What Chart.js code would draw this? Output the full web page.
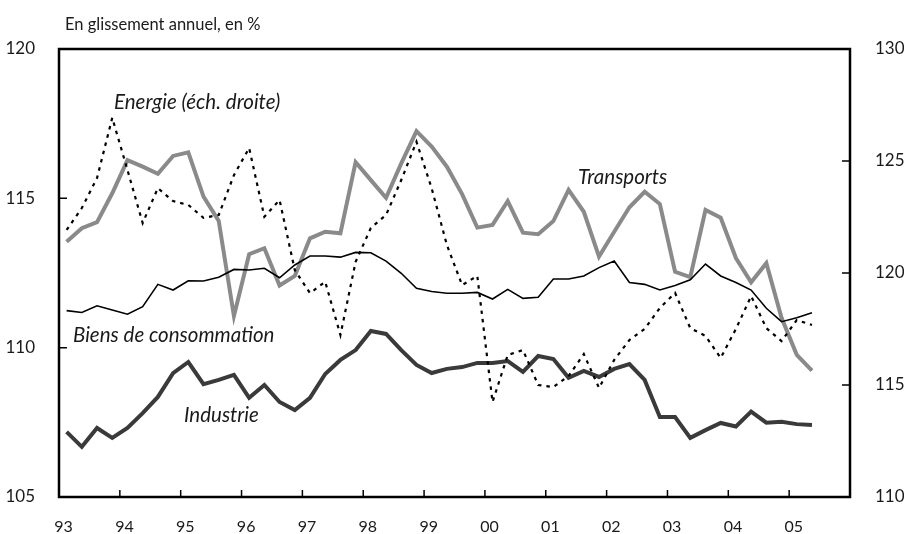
<!DOCTYPE html>
<html>
<head>
<meta charset="utf-8">
<script src="https://cdn.jsdelivr.net/npm/chart.js@4"></script>
<style>
  html, body { margin: 0; padding: 0; background: #fff; }
  #wrap { width: 904px; height: 534px; }
</style>
</head>
<body>
<div id="wrap"><canvas id="chart" width="904" height="534"></canvas></div>
<script>
// years shown on the x axis, quarterly data 1993T1 - 2005T2
var YEARS = ["93", "94", "95", "96", "97", "98", "99", "00", "01", "02", "03", "04", "05"];
var QUARTERS = YEARS.flatMap(function (y) { return [y + "T1", y + "T2", y + "T3", y + "T4"]; });

var LEFT_TICKS = [105, 110, 115, 120];
var RIGHT_TICKS = [110, 115, 120, 125, 130];

// left scale
var TRANSPORTS = [113.55, 114.0, 114.2, 115.17, 116.28, 116.06, 115.82, 116.42, 116.54, 115.06,
    114.24, 111.06, 113.13, 113.33, 112.08, 112.4, 113.66, 113.88, 113.83, 116.21,
    115.61, 115.02, 116.17, 117.25, 116.73, 116.06, 115.14, 114.02, 114.11, 114.91,
    113.85, 113.8, 114.24, 115.28, 114.55, 113.05, 113.88, 114.7, 115.22, 114.81,
    112.54, 112.36, 114.61, 114.35, 113.0, 112.19, 112.83, 111.0, 109.76, 109.23];

var BIENS = [111.24, 111.18, 111.4, 111.26, 111.12, 111.37, 112.12, 111.93, 112.24, 112.23,
    112.36, 112.62, 112.6, 112.66, 112.34, 112.77, 113.07, 113.07, 113.03, 113.19,
    113.18, 112.9, 112.49, 111.99, 111.88, 111.82, 111.82, 111.85, 111.63, 111.95,
    111.65, 111.69, 112.3, 112.3, 112.4, 112.68, 112.9, 112.18, 112.12, 111.93,
    112.08, 112.27, 112.8, 112.4, 112.18, 111.93, 111.32, 110.87, 111.0, 111.17];

var INDUSTRIE = [107.18, 106.68, 107.31, 106.98, 107.31, 107.81, 108.35, 109.15, 109.52, 108.78,
    108.92, 109.09, 108.32, 108.75, 108.18, 107.91, 108.32, 109.12, 109.59, 109.92,
    110.56, 110.46, 109.92, 109.42, 109.15, 109.29, 109.35, 109.49, 109.49, 109.55,
    109.19, 109.72, 109.62, 108.99, 109.22, 109.02, 109.29, 109.45, 108.92, 107.68,
    107.68, 106.98, 107.24, 107.48, 107.36, 107.86, 107.49, 107.52, 107.44, 107.41];

// right scale
var ENERGIE = [121.92, 122.9, 124.24, 126.93, 124.6, 122.23, 123.79, 123.21, 123.04, 122.46,
    122.59, 124.37, 125.58, 122.51, 123.26, 120.13, 119.1, 119.61, 117.23, 120.5,
    122.01, 122.59, 124.15, 125.86, 123.78, 121.25, 119.46, 119.87, 114.24, 116.34,
    116.56, 115.0, 114.91, 115.4, 116.38, 114.87, 116.12, 117.01, 117.5, 118.44,
    119.11, 117.54, 117.19, 116.21, 117.5, 118.97, 117.54, 116.96, 117.9, 117.68];

var FONT = "Lato, 'Open Sans', sans-serif";
var TEXT = "#1a1a1a";

// frame, inward ticks and the text labels
var decor = {
    id: "decor",
    afterDraw: function (chart) {
        var ctx = chart.ctx;
        var a = chart.chartArea;
        var x = chart.scales.x;
        var yl = chart.scales.y;
        var yr = chart.scales.y2;
        ctx.save();
        ctx.strokeStyle = "#000";
        ctx.lineWidth = 2.5;
        ctx.strokeRect(a.left, a.top, a.right - a.left, a.bottom - a.top);

        ctx.lineWidth = 1.5;
        var half = (x.getPixelForTick(1) - x.getPixelForTick(0)) / 2;
        ctx.beginPath();
        for (var k = 1; k < YEARS.length; k++) {
            var px = x.getPixelForTick(k * 4) - half;
            ctx.moveTo(px, a.bottom);
            ctx.lineTo(px, a.bottom - 7);
        }
        LEFT_TICKS.slice(1, -1).forEach(function (v) {
            var py = yl.getPixelForValue(v);
            ctx.moveTo(a.left, py);
            ctx.lineTo(a.left + 8, py);
        });
        RIGHT_TICKS.slice(1, -1).forEach(function (v) {
            var py = yr.getPixelForValue(v);
            ctx.moveTo(a.right, py);
            ctx.lineTo(a.right - 8, py);
        });
        ctx.stroke();

        ctx.fillStyle = TEXT;
        ctx.textBaseline = "middle";
        ctx.textAlign = "left";
        ctx.font = "16.5px " + FONT;
        ctx.fillText("En glissement annuel, en %", 65, 25);

        ctx.font = "italic 20.5px " + FONT;
        ctx.fillText("Energie (éch. droite)", 114, 102);
        ctx.fillText("Transports", 578, 177);
        ctx.fillText("Biens de consommation", 73, 335);
        ctx.fillText("Industrie", 184, 415);
        ctx.restore();
    }
};

const config = {
    type: "line",
    data: {
        labels: QUARTERS,
        datasets: [
            {
                label: "Energie (éch. droite)",
                data: ENERGIE,
                yAxisID: "y2",
                borderColor: "#000",
                borderWidth: 2.2,
                borderDash: [3.5, 5],
                order: 1,
            },
            {
                label: "Biens de consommation",
                data: BIENS,
                yAxisID: "y",
                borderColor: "#000",
                borderWidth: 1.6,
                order: 2,
            },
            {
                label: "Transports",
                data: TRANSPORTS,
                yAxisID: "y",
                borderColor: "#8a8a8a",
                borderWidth: 4,
                order: 3,
            },
            {
                label: "Industrie",
                data: INDUSTRIE,
                yAxisID: "y",
                borderColor: "#3a3a3a",
                borderWidth: 4,
                order: 4,
            },
        ],
    },
    options: {
        animation: false,
        responsive: false,
        events: [],
        elements: {
            point: { radius: 0 },
            line: { tension: 0, borderJoinStyle: "miter", borderCapStyle: "butt" },
        },
        layout: { padding: { top: 49, left: 0, right: 0, bottom: 0 } },
        plugins: {
            legend: { display: false },
            tooltip: { enabled: false },
        },
        scales: {
            x: {
                type: "category",
                offset: true,
                grid: { display: false },
                border: { display: false },
                ticks: {
                    autoSkip: false,
                    maxRotation: 0,
                    padding: 12,
                    labelOffset: -3,
                    color: TEXT,
                    font: { family: FONT, size: 16 },
                    callback: function (value, index) {
                        return index % 4 === 0 ? YEARS[index / 4] : "";
                    },
                },
                afterFit: function (scale) { scale.height = 37; },
            },
            y: {
                position: "left",
                min: 105,
                max: 120,
                grid: { display: false },
                border: { display: false },
                ticks: {
                    stepSize: 5,
                    padding: 16,
                    color: TEXT,
                    font: { family: FONT, size: 17 },
                },
                afterFit: function (scale) { scale.width = 59; },
            },
            y2: {
                position: "right",
                min: 110,
                max: 130,
                grid: { display: false },
                border: { display: false },
                ticks: {
                    stepSize: 5,
                    padding: 17,
                    color: TEXT,
                    font: { family: FONT, size: 17 },
                },
                afterFit: function (scale) { scale.width = 54; },
            },
        },
    },
    plugins: [decor],
};

new Chart(document.getElementById("chart"), config);
</script>
</body>
</html>
